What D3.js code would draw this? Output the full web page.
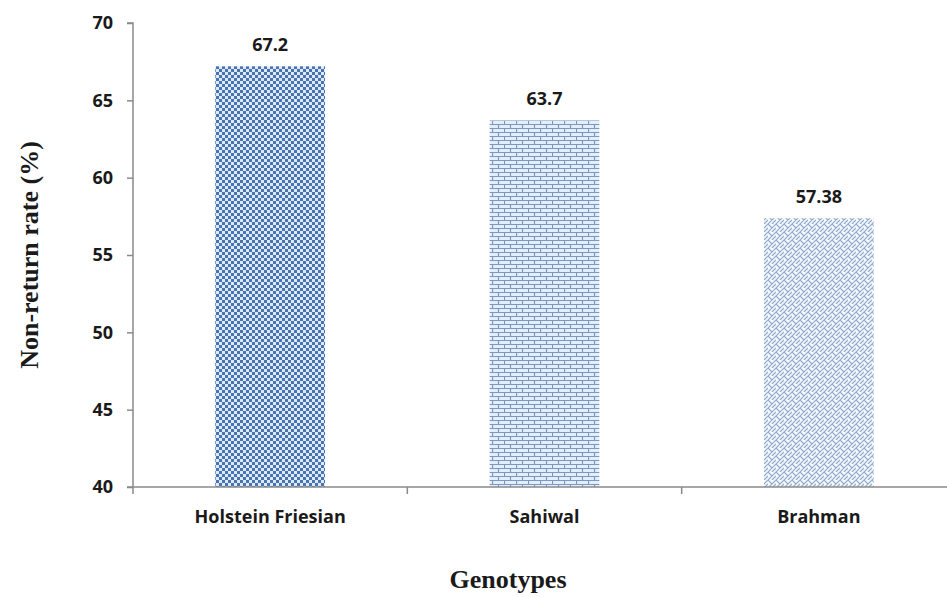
<!DOCTYPE html>
<html>
<head>
<meta charset="utf-8">
<script src="https://cdn.jsdelivr.net/npm/d3@7"></script>
<style>
  html, body { margin: 0; padding: 0; background: #fff; }
  svg { display: block; }
</style>
</head>
<body>
<svg id="chart" width="947" height="597"></svg>
<script>
// Non-return rate by genotype
const genotypes = ["Holstein Friesian", "Sahiwal", "Brahman"];
const rates = [67.2, 63.7, 57.38];
const rateLabels = ["67.2", "63.7", "57.38"];
const yTicks = [40, 45, 50, 55, 60, 65, 70];

const W = 947, H = 597;
const plot = { left: 133, right: 956, top: 23, bottom: 487 };
const sans = "'Open Sans', 'Liberation Sans', sans-serif";
const serif = "'Liberation Serif', 'Times New Roman', serif";

const svg = d3.select("#chart");
const defs = svg.append("defs");

// Checkerboard fill
const chk = defs.append("pattern").attr("id", "pat-check")
  .attr("patternUnits", "userSpaceOnUse").attr("width", 6).attr("height", 6);
chk.append("rect").attr("width", 6).attr("height", 6).attr("fill", "#dce9f8");
chk.append("rect").attr("x", 0).attr("y", 0).attr("width", 3).attr("height", 3).attr("fill", "#4a74b0");
chk.append("rect").attr("x", 3).attr("y", 3).attr("width", 3).attr("height", 3).attr("fill", "#4a74b0");

// Brick fill
const brick = defs.append("pattern").attr("id", "pat-brick")
  .attr("patternUnits", "userSpaceOnUse").attr("width", 12).attr("height", 8);
brick.append("rect").attr("width", 12).attr("height", 8).attr("fill", "#e3eefb");
brick.append("path")
  .attr("d", "M0,0.5H12 M0,4.5H12 M0.5,0V4 M6.5,4V8")
  .attr("stroke", "#7d97bf").attr("stroke-width", 1.2).attr("fill", "none");

// Diagonal weave fill
const weave = defs.append("pattern").attr("id", "pat-weave")
  .attr("patternUnits", "userSpaceOnUse").attr("width", 8).attr("height", 8);
weave.append("rect").attr("width", 8).attr("height", 8).attr("fill", "#f2f7fd");
weave.append("path")
  .attr("d", "M0,8L8,0 M-2,2L2,-2 M6,10L10,6 M0,0L4,4 M4,8L8,4")
  .attr("stroke", "#8ea7ca").attr("stroke-width", 1.1).attr("fill", "none");

const patterns = ["url(#pat-check)", "url(#pat-brick)", "url(#pat-weave)"];

const x = d3.scaleBand()
  .domain(genotypes)
  .range([plot.left, plot.right])
  .paddingInner(0.6)
  .paddingOuter(0.3);

const y = d3.scaleLinear()
  .domain([40, 70])
  .range([plot.bottom, plot.top]);

// Bars
svg.append("g").selectAll("rect")
  .data(genotypes)
  .join("rect")
  .attr("x", d => x(d))
  .attr("width", x.bandwidth())
  .attr("y", (d, i) => y(rates[i]))
  .attr("height", (d, i) => y(40) - y(rates[i]))
  .attr("fill", (d, i) => patterns[i]);

// Value labels
svg.append("g").selectAll("text")
  .data(genotypes)
  .join("text")
  .attr("x", d => x(d) + x.bandwidth() / 2)
  .attr("y", (d, i) => y(rates[i]) - 15)
  .attr("text-anchor", "middle")
  .attr("font-family", sans)
  .attr("font-weight", "bold")
  .attr("font-size", 18)
  .attr("fill", "#1a1a1a")
  .text((d, i) => rateLabels[i]);

const axisColor = "#8a8a8a";

// Y axis
const yAxis = svg.append("g")
  .attr("transform", `translate(${plot.left},0)`)
  .call(d3.axisLeft(y).tickValues(yTicks).tickSize(6).tickPadding(14).tickFormat(d3.format("d")));
yAxis.select(".domain").attr("stroke", axisColor).attr("stroke-width", 1.5).attr("d", `M-6,${plot.top}H0V${plot.bottom}`);
yAxis.selectAll(".tick line").attr("stroke", axisColor).attr("stroke-width", 1.5);
yAxis.selectAll(".tick text")
  .attr("font-family", sans)
  .attr("font-weight", "bold").attr("font-size", 18).attr("fill", "#1a1a1a");

// X axis with ticks at category boundaries
const bounds = [plot.left, ...genotypes.slice(1).map(g => x(g) - x.step() * x.paddingInner() / 2), plot.right];
const xg = svg.append("g");
xg.append("line")
  .attr("x1", plot.left - 6).attr("x2", plot.right)
  .attr("y1", plot.bottom).attr("y2", plot.bottom)
  .attr("stroke", axisColor).attr("stroke-width", 1.5);
xg.selectAll("line.tk")
  .data(bounds)
  .join("line").attr("class", "tk")
  .attr("x1", d => d).attr("x2", d => d)
  .attr("y1", plot.bottom).attr("y2", plot.bottom + 7)
  .attr("stroke", axisColor).attr("stroke-width", 1.5);
xg.selectAll("text")
  .data(genotypes)
  .join("text")
  .attr("x", d => x(d) + x.bandwidth() / 2)
  .attr("y", plot.bottom + 36)
  .attr("text-anchor", "middle")
  .attr("font-family", sans)
  .attr("font-weight", "bold").attr("font-size", 18).attr("fill", "#1a1a1a")
  .text(d => d);

// Axis titles
svg.append("text")
  .attr("x", 508).attr("y", 588)
  .attr("text-anchor", "middle")
  .attr("font-family", serif)
  .attr("font-weight", "bold").attr("font-size", 26).attr("fill", "#1a1a1a")
  .text("Genotypes");

svg.append("text")
  .attr("transform", `translate(38,${(plot.top + plot.bottom) / 2}) rotate(-90)`)
  .attr("text-anchor", "middle")
  .attr("font-family", serif)
  .attr("font-weight", "bold").attr("font-size", 26).attr("fill", "#1a1a1a")
  .text("Non-return rate (%)");
</script>
</body>
</html>
